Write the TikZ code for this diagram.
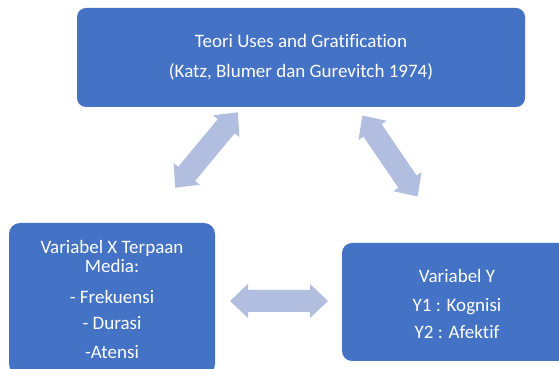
\documentclass[tikz,border=0pt]{standalone}
\usepackage{fontspec}
\setmainfont[Ligatures={NoCommon,NoRare,NoContextual}]{Carlito}
\definecolor{boxblue}{HTML}{4472C4}
\definecolor{arrowblue}{HTML}{B1BEE0}
\begin{document}
\begin{tikzpicture}[x=1pt,y=1pt,
  box/.style={fill=boxblue, rounded corners=9pt, text=white, align=center, inner sep=0pt,
    font=\fontsize{19}{19.5}\selectfont},
  dblarrow/.pic={\fill[arrowblue] (-49,0) -- (-31,17) -- (-31,11) -- (31,11) -- (31,17) -- (49,0)
      -- (31,-17) -- (31,-11) -- (-31,-11) -- (-31,-17) -- cycle;}]
\clip (0,0) rectangle (559,369);
\fill[white] (0,0) rectangle (559,369);
\node[box, minimum width=448pt, minimum height=99pt] (teori) at (301,311.5)
  {Teori Uses and Gratification\\[10.5pt](Katz, Blumer dan Gurevitch 1974)};
\node[box, minimum width=206pt, minimum height=152pt, rounded corners=11pt] (varx) at (112,70)
  {Variabel X Terpaan\\Media:\\[11pt]- Frekuensi\\[7pt]- Durasi\\[9pt]-Atensi};
\node[box, minimum width=230pt, minimum height=118pt, rounded corners=10pt] (vary) at (457,67)
  {\\[-3pt]Variabel Y\\[9.5pt]Y1 : Kognisi\\[7.5pt]Y2 : Afektif};
\pic[rotate=50.3] (a1) at (206.5,219) {dblarrow};
\pic[rotate=-55.7] (a2) at (390,213) {dblarrow};
\pic (a3) at (279,68) {dblarrow};
\end{tikzpicture}
\end{document}
